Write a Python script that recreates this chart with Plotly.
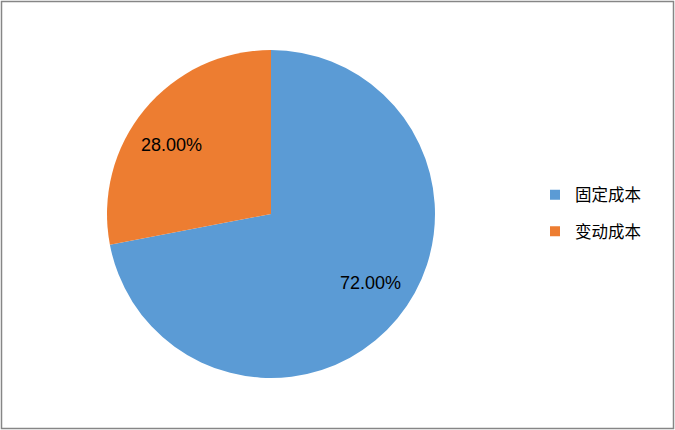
import math
import plotly.graph_objects as go

categories = ["固定成本", "变动成本"]
values = [72.00, 28.00]
colors = ["#5B9BD5", "#ED7D31"]

W, H = 675, 430
# pie geometry in pixels
CX, CY, R = 271, 214, 164
LABEL_R = 0.74
LABEL_ANGLE_SHIFT = -5.0  # degrees, mimics Excel best-fit placement

fig = go.Figure()
fig.add_trace(go.Pie(
    labels=categories,
    values=values,
    sort=False,
    direction="clockwise",
    rotation=0,
    marker=dict(colors=colors, line=dict(width=0)),
    textinfo="none",
    domain=dict(x=[(CX - R) / W, (CX + R) / W], y=[1 - (CY + R) / H, 1 - (CY - R) / H]),
    hoverinfo="label+percent",
    showlegend=False,
))

# percentage labels placed near each slice's mid-angle
total = sum(values)
cum = 0.0
annotations = []
for lab, v in zip(categories, values):
    mid = (cum + v / 2) / total
    cum += v
    th = 2 * math.pi * mid + math.radians(LABEL_ANGLE_SHIFT)
    px = CX + math.sin(th) * R * LABEL_R
    py = CY - math.cos(th) * R * LABEL_R
    annotations.append(dict(
        x=px / W, y=1 - py / H, xref="paper", yref="paper",
        text=f"{v / total * 100:.2f}%", showarrow=False,
        xanchor="center", yanchor="middle",
        font=dict(family="Liberation Sans, Arial", size=18, color="#000000"),
    ))

# legend entries (square markers)
for lab, c in zip(categories, colors):
    fig.add_trace(go.Scatter(
        x=[None], y=[None], mode="markers", name=lab, legendgroup=lab,
        marker=dict(symbol="square", size=10, color=c),
        showlegend=True, hoverinfo="skip",
    ))

fig.update_layout(
    width=W, height=H,
    margin=dict(l=0, r=0, t=0, b=0),
    paper_bgcolor="white",
    plot_bgcolor="white",
    xaxis=dict(visible=False),
    yaxis=dict(visible=False),
    showlegend=True,
    legend=dict(
        x=535 / W, y=1 - 213 / H, xanchor="left", yanchor="middle",
        font=dict(family="Noto Sans CJK SC", size=16.5, color="#000000"),
        tracegroupgap=12,
        itemwidth=30,
        bgcolor="rgba(0,0,0,0)",
    ),
    annotations=annotations,
    shapes=[dict(
        type="rect", xref="paper", yref="paper",
        x0=1.5 / W, x1=673.5 / W, y0=1 - 428.5 / H, y1=1 - 1.5 / H,
        line=dict(color="#868686", width=1.5),
    )],
)

fig.write_html("out.html", config={"displayModeBar": False},
               post_script="document.body.style.margin='0';")
